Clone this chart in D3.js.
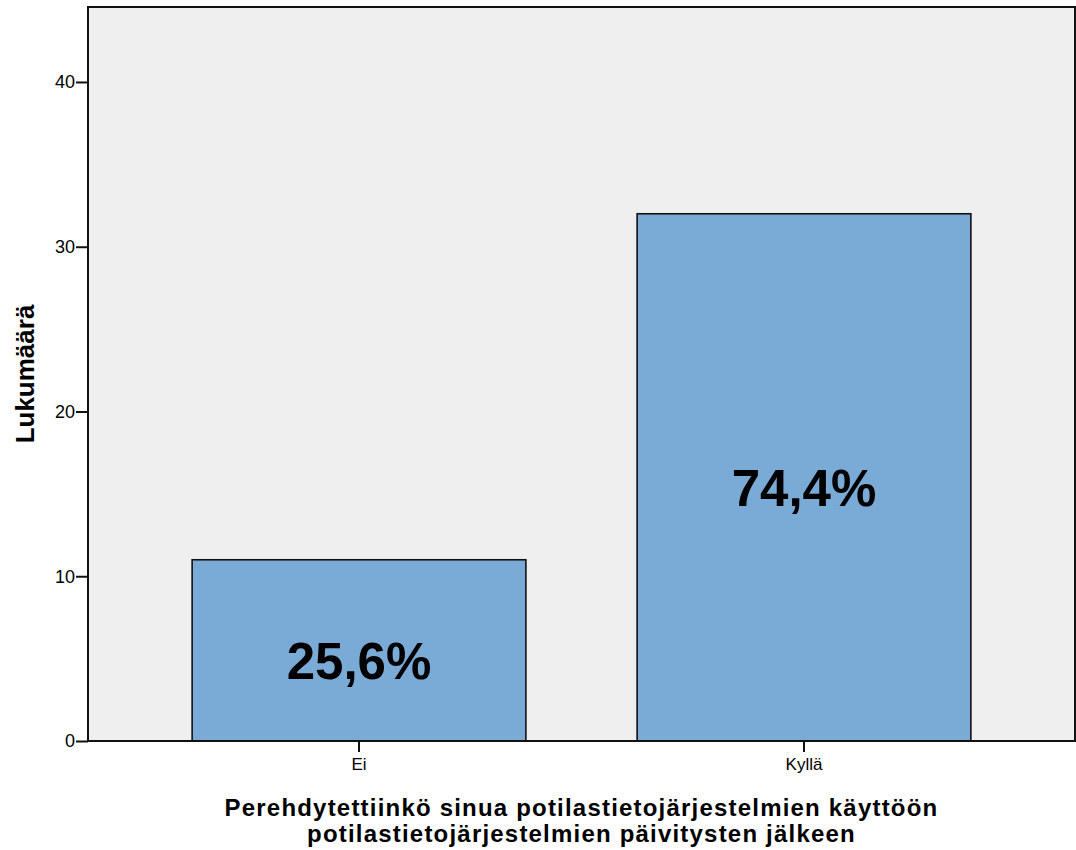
<!DOCTYPE html>
<html>
<head>
<meta charset="utf-8">
<script src="https://cdn.jsdelivr.net/npm/d3@7"></script>
<style>
  html, body { margin: 0; padding: 0; background: #ffffff; }
  svg { display: block; font-family: Arial, "Liberation Sans", sans-serif; }
</style>
</head>
<body>
<svg id="chart" width="1076" height="850"></svg>
<script>
// Answer categories and respondent counts
const categories = ["Ei", "Kyllä"];
const counts = [11, 32];
const percentLabels = ["25,6%", "74,4%"];
const yTicks = [0, 10, 20, 30, 40];
const yTitle = "Lukumäärä";
const xTitleLines = [
  "Perehdytettiinkö sinua potilastietojärjestelmien käyttöön",
  "potilastietojärjestelmien päivitysten jälkeen"
];

const svg = d3.select("#chart");
const plot = { left: 88, right: 1075, top: 7, bottom: 741 };

const x = d3.scaleBand()
  .domain(categories)
  .range([plot.left, plot.right])
  .paddingInner(0.25)
  .paddingOuter(0.234);

const y = d3.scaleLinear()
  .domain([0, 44.55])
  .range([plot.bottom, plot.top]);

// Plot background
svg.append("rect")
  .attr("x", plot.left).attr("y", plot.top)
  .attr("width", plot.right - plot.left)
  .attr("height", plot.bottom - plot.top)
  .attr("fill", "#efefef");

// Bars
svg.selectAll("rect.bar")
  .data(categories)
  .join("rect")
  .attr("class", "bar")
  .attr("x", d => x(d))
  .attr("y", (d, i) => y(counts[i]))
  .attr("width", x.bandwidth())
  .attr("height", (d, i) => y(0) - y(counts[i]))
  .attr("fill", "#7aaad6")
  .attr("stroke", "#111")
  .attr("stroke-width", 1.6);

// Percentage labels inside bars
svg.selectAll("text.pct")
  .data(categories)
  .join("text")
  .attr("class", "pct")
  .attr("x", d => x(d) + x.bandwidth() / 2)
  .attr("y", (d, i) => (y(counts[i]) + y(0)) / 2 + 29)
  .attr("text-anchor", "middle")
  .attr("font-size", 51)
  .attr("font-weight", "bold")
  .attr("fill", "#000")
  .text((d, i) => percentLabels[i]);

// Plot frame
svg.append("rect")
  .attr("x", plot.left).attr("y", plot.top)
  .attr("width", plot.right - plot.left)
  .attr("height", plot.bottom - plot.top)
  .attr("fill", "none")
  .attr("stroke", "#111")
  .attr("stroke-width", 2);

// Y axis
const yAxis = d3.axisLeft(y).tickValues(yTicks).tickSize(12).tickPadding(1).tickFormat(d3.format("d"));
const gy = svg.append("g").attr("transform", `translate(${plot.left},0)`).call(yAxis);
gy.select(".domain").remove();
gy.selectAll(".tick line").attr("stroke", "#111").attr("stroke-width", 2);
gy.selectAll(".tick text").attr("font-size", 18).attr("font-family", "Arial, 'Liberation Sans', sans-serif").attr("fill", "#000");

// X axis
const xAxis = d3.axisBottom(x).tickSize(11).tickPadding(6);
const gx = svg.append("g").attr("transform", `translate(0,${plot.bottom})`).call(xAxis);
gx.select(".domain").remove();
gx.selectAll(".tick line").attr("stroke", "#111").attr("stroke-width", 2);
gx.selectAll(".tick text").attr("font-size", 17).attr("font-family", "Arial, 'Liberation Sans', sans-serif").attr("fill", "#000");

// Y title
svg.append("text")
  .attr("transform", `translate(34,${(plot.top + plot.bottom) / 2}) rotate(-90)`)
  .attr("text-anchor", "middle")
  .attr("font-size", 26)
  .attr("font-weight", "bold")
  .text(yTitle);

// X title, two centred lines
svg.append("text")
  .attr("x", (plot.left + plot.right) / 2)
  .attr("y", 816)
  .attr("text-anchor", "middle")
  .attr("font-size", 24)
  .attr("font-weight", "bold")
  .attr("letter-spacing", 1.2)
  .selectAll("tspan")
  .data(xTitleLines)
  .join("tspan")
  .attr("x", (plot.left + plot.right) / 2)
  .attr("dy", (d, i) => i === 0 ? 0 : 26)
  .text(d => d);
</script>
</body>
</html>
